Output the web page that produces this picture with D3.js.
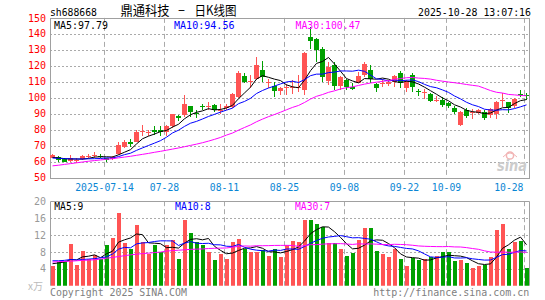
<!DOCTYPE html>
<html><head><meta charset="utf-8">
<script src="https://cdn.jsdelivr.net/npm/d3@7"></script>
<style>body{margin:0;background:#fff}svg{display:block}</style>
</head><body><svg id="c" width="545" height="300"></svg>
<script>
// ---------- data ----------
const dates = [
"2025-07-01","2025-07-02","2025-07-03","2025-07-04","2025-07-07","2025-07-08","2025-07-09","2025-07-10","2025-07-11",
"2025-07-14","2025-07-15","2025-07-16","2025-07-17","2025-07-18","2025-07-21","2025-07-22","2025-07-23","2025-07-24","2025-07-25",
"2025-07-28","2025-07-29","2025-07-30","2025-07-31","2025-08-01","2025-08-04","2025-08-05","2025-08-06","2025-08-07","2025-08-08",
"2025-08-11","2025-08-12","2025-08-13","2025-08-14","2025-08-15","2025-08-18","2025-08-19","2025-08-20","2025-08-21","2025-08-22",
"2025-08-25","2025-08-26","2025-08-27","2025-08-28","2025-08-29","2025-09-01","2025-09-02","2025-09-03","2025-09-04","2025-09-05",
"2025-09-08","2025-09-09","2025-09-10","2025-09-11","2025-09-12","2025-09-15","2025-09-16","2025-09-17","2025-09-18","2025-09-19",
"2025-09-22","2025-09-23","2025-09-24","2025-09-25","2025-09-26","2025-09-29","2025-09-30",
"2025-10-09","2025-10-10","2025-10-13","2025-10-14","2025-10-15","2025-10-16","2025-10-17","2025-10-20","2025-10-21","2025-10-22",
"2025-10-23","2025-10-24","2025-10-27","2025-10-28"];
const open = [62.5,63,61.5,60.5,60.5,61.6,63,63.5,63.5,62,61.5,64.5,69.4,72,72.5,78.8,78.5,79.5,80,78.3,
82,88.5,89,94.5,90.5,94.5,94,95.5,92,93.5,94.4,100.6,113.5,110,112,117.5,109.5,107.5,104,106.5,
106.5,106.5,105,138,136.5,130.5,110.5,120.5,107.5,111,106.5,109.5,114,117.5,108.5,108.5,108.5,110,115.5,106,
114,104,103,102.5,98.5,98.5,96.5,93.8,83,92.3,91,90.5,91.3,89.2,90,98.5,97,94.5,102.5,101.5];
const high = [64.5,63.5,62,64,62.5,64,65,66,64.5,62.5,63.5,72.5,73.5,74,79.5,83,80,82,82.5,82.8,
90,89,101.5,95,92.5,96,97,96,96,96,103,117,115.5,114,125.5,123,111.5,110,107,108.5,
111,114,128.5,144,137.5,131.5,122.5,122.5,113.5,111.5,109,116,122.5,120.5,109.5,112,111,114,116.5,111,
115.5,105.2,105.2,103,101,100.5,97,95,91.5,93.8,92.7,93,92,93.4,97.7,102.7,97.5,99.6,104.8,102.7];
const low = [62,60,59.5,60,59,61,62,62.5,62,59.5,61,64,68.5,69,72,76,76,76.5,76,76,
81,85.5,88,88,87,92,92,91,90,92,93.5,100,109,106,111,110,106,100.5,102,101.5,
102.5,103.7,102,130.8,122.5,110,108,104.8,104.8,104.8,104.8,109,113,109,103.7,107,107.5,107,105.8,103.7,
103.5,101,99,97.5,97.5,94.4,93.8,89.6,82.3,87,86.5,90,86,87.5,86.5,94.4,90.6,93.5,100.6,98.5];
const close = [64,61,60,62,61,63.5,63.5,64,63,61,62.7,70.4,72.1,71,78.8,79,78.6,78.8,78.5,82.5,
89.5,87.5,96,91,90.2,94,94.5,92,92.5,94.8,102.3,115.2,110,110.5,120.4,113,110,104.2,106,107,
107,107,128,135.5,130,113,119.5,107.5,113,107,105.5,113.5,121,112,106,109,110,113.5,109,110,
107,103.5,103.5,98,98.8,95.5,94.5,91,91,88.5,91.3,92.3,87,93,97.5,98.7,93.5,99,102,101];
// volume (万手)
const volume = [4.6,5.6,5.6,9.8,4.9,8.2,6.4,7.2,6.4,9.6,11.2,17.1,10.0,8.6,14.3,10.4,7.4,9.6,8.0,9.6,
10.9,6.4,15.5,12.4,10.4,9.6,8.0,6.2,7.6,6.4,10.4,11.1,8.8,8.0,8.0,8.4,7.0,8.6,6.8,9.7,
10.5,10.3,15.5,15.5,14.5,13.9,10.0,10.0,8.8,7.0,7.8,10.7,13.7,13.7,8.3,7.4,6.8,8.8,6.4,4.6,
6.6,6.2,6.4,6.7,7.0,8.0,8.0,5.8,6.2,5.3,4.1,4.6,4.9,6.9,13.3,14.5,8.8,10.4,10.5,4.3];
// moving-average values at the start of the window (need history before the chart)
const ma5Head = [62.6,62.3,61.8,61.6];
const ma10Head = [62.2,62.0,61.8,61.7,61.6,61.6,61.7,61.8,61.9];
const ma30Head = [57.3,57.7,58.2,58.7,59.2,59.7,60.2,60.6,61.0,61.4,61.8,62.3,62.8,63.3,63.9,64.5,65.1,65.8,66.4,67.1,
67.8,68.5,69.3,70.1,70.9,71.8,72.8,73.9,75.1];
const volMa5Head = [5.2,5.4,5.6,6.2];
const volMa10Head = [5.9,5.9,6.0,6.2,6.1,6.2,6.3,6.4,6.6];
const volMa30Head = [5.6,5.7,5.75,5.8,5.9,6.0,6.05,6.15,6.3,6.5,6.7,6.9,7.1,7.3,7.45,7.6,7.7,7.85,7.95,8.2,
8.3,8.4,8.5,8.6,8.65,8.7,8.8,8.85,8.9];
const priceTicks = [50,60,70,80,90,100,110,120,130,140,150];
const volTicks = [4,8,12,16,20];
const dateTicks = ["2025-07-14","2025-07-28","2025-08-11","2025-08-25","2025-09-08","2025-09-22","2025-10-09","2025-10-28"];
const dateTickLabels = ["2025-07-14","07-28","08-11","08-25","09-08","09-22","10-09","10-28"];
const symbol = "sh688668";
const titleParts = ["鼎通科技", "－", "日K线图"];
const stamp = "2025-10-28 13:07:16";
const priceLegend = ["MA5:97.79","MA10:94.56","MA30:100.47"];
const volLegend = ["MA5:9","MA10:8","MA30:7"];

// ---------- drawing ----------
const RED = "#ff5454", GREEN = "#00a000", GRID = "#aaaaaa", FRAME = "#a0a0a0";
const MA_COLORS = ["#000000","#0000ff","#ff00ff"];
const MONO = "DejaVu Sans Mono, monospace";
const CJK = "Noto Sans CJK SC, sans-serif";
const svg = d3.select("#c");
const L = 50, R = 530;
const x = d3.scaleBand().domain(dates).range([L, R]).paddingInner(1/6).paddingOuter(1/12);
const bx = d => Math.floor(x(d));
const cx = i => bx(dates[i]) + 2.5;
const y = d3.scaleLinear().domain([50,150]).range([177.5,17.9]);
const yv = d3.scaleLinear().domain([0,20]).range([285.7,201.2]);

function ma(vals, n, head){
  return vals.map((v,i)=> i < head.length ? head[i] : d3.mean(vals.slice(i-n+1,i+1)));
}
function txt(s, px, py, opt){
  const t = svg.append("text").attr("x",px).attr("y",py).text(s)
    .attr("font-family", opt.family || MONO).attr("font-size", opt.size || 10)
    .attr("fill", opt.fill || "#000");
  if (opt.anchor) t.attr("text-anchor", opt.anchor);
  if (opt.len) t.attr("textLength", opt.len).attr("lengthAdjust","spacingAndGlyphs");
  return t;
}

svg.append("defs").append("clipPath").attr("id","pc").append("rect")
  .attr("x",L).attr("y",y(150)).attr("width",R-L).attr("height",y(50)-y(150));
svg.select("defs").append("clipPath").attr("id","vc").append("rect")
  .attr("x",L).attr("y",yv(20)).attr("width",R-L).attr("height",yv(0)-yv(20));

// header
txt(symbol, 50, 15.5, {size:11, len:47});
txt(titleParts[0], 120.6, 14.8, {family:CJK, size:13, len:49});
txt(titleParts[1], 177.5, 14.8, {family:CJK, size:13, len:8});
txt(titleParts[2], 194.5, 14.8, {family:CJK, size:13, len:42});
txt(stamp, 418, 15.5, {size:11, len:113});

// grids main
const g = svg.append("g");
g.selectAll("line.hg").data(priceTicks.filter(v=>v>50 && v<150)).join("line")
  .attr("x1",L).attr("x2",R).attr("y1",d=>Math.round(y(d))+0.5).attr("y2",d=>Math.round(y(d))+0.5)
  .attr("stroke",GRID).attr("stroke-dasharray","2,2");
g.selectAll("line.vg").data(dateTicks).join("line")
  .attr("x1",d=>bx(d)+0.5).attr("x2",d=>bx(d)+0.5).attr("y1",y(150)).attr("y2",y(50))
  .attr("stroke",GRID).attr("stroke-dasharray","5,3");
// grids volume
g.append("g").selectAll("line").data(volTicks.filter(v=>v<20)).join("line")
  .attr("x1",L).attr("x2",R).attr("y1",d=>Math.round(yv(d))+0.5).attr("y2",d=>Math.round(yv(d))+0.5)
  .attr("stroke",GRID).attr("stroke-dasharray","2,2");
g.append("g").selectAll("line").data(dateTicks).join("line")
  .attr("x1",d=>bx(d)+0.5).attr("x2",d=>bx(d)+0.5).attr("y1",yv(20)).attr("y2",yv(0))
  .attr("stroke",GRID).attr("stroke-dasharray","5,3");

// frames
svg.append("rect").attr("x",L+0.5).attr("y",Math.round(y(150))+0.5).attr("width",R-L-1)
  .attr("height",Math.round(y(50))-Math.round(y(150))).attr("fill","none").attr("stroke",FRAME);
svg.append("path").attr("d",`M${L+0.5},${yv(0)}V${Math.round(yv(20))+0.5}H${R-0.5}V${yv(0)}`)
  .attr("fill","none").attr("stroke",FRAME);

// price axis labels
priceTicks.forEach(v=>txt(String(v), 46, y(v)+3.6, {size:10, fill:"#ff0000", anchor:"end"}));
// volume axis labels
volTicks.forEach(v=>txt(String(v), 46, yv(v)+3.6, {size:10, fill:"#999999", anchor:"end"}));
// date labels
dateTicks.forEach((d,k)=>{
  const s = dateTickLabels[k], w = s.length*5.87, c = bx(d)+0.5;
  const x0 = Math.min(c - w/2, R - 6.5 - w);
  txt(s, x0, 190.6, {size:11, fill:"#0a86d4", len:w});
});

// candles
const cg = svg.append("g").attr("clip-path","url(#pc)");
const idx = d3.range(dates.length);
const col = i => close[i] >= open[i] ? RED : GREEN;
cg.selectAll("line.w").data(idx).join("line")
  .attr("x1",cx).attr("x2",cx).attr("y1",i=>Math.round(y(high[i]))).attr("y2",i=>Math.round(y(low[i])))
  .attr("stroke",col).attr("shape-rendering","crispEdges");
cg.selectAll("rect.b").data(idx).join("rect")
  .attr("x",i=>bx(dates[i])).attr("width",x.bandwidth())
  .attr("y",i=>Math.round(y(Math.max(open[i],close[i]))))
  .attr("height",i=>Math.max(1, Math.round(y(Math.min(open[i],close[i])))-Math.round(y(Math.max(open[i],close[i])))))
  .attr("fill",col).attr("shape-rendering","crispEdges");

// price MAs
const pm = [ma(close,5,ma5Head), ma(close,10,ma10Head), ma(close,30,ma30Head)];
const line = d3.line().x((d,i)=>cx(i)).y(d=>y(d));
pm.forEach((arr,k)=>cg.append("path").attr("d",line(arr)).attr("fill","none")
  .attr("stroke",MA_COLORS[k]).attr("stroke-width",1));

// volume bars
const vg = svg.append("g").attr("clip-path","url(#vc)");
vg.selectAll("rect").data(idx).join("rect")
  .attr("x",i=>bx(dates[i])+1).attr("width",x.bandwidth()-1)
  .attr("y",i=>Math.round(yv(volume[i]))).attr("height",i=>Math.round(yv(0))-Math.round(yv(volume[i])))
  .attr("fill",col).attr("shape-rendering","crispEdges");
const vm = [ma(volume,5,volMa5Head), ma(volume,10,volMa10Head), ma(volume,30,volMa30Head)];
const vline = d3.line().x((d,i)=>cx(i)).y(d=>yv(d));
vm.forEach((arr,k)=>vg.append("path").attr("d",vline(arr)).attr("fill","none")
  .attr("stroke",MA_COLORS[k]).attr("stroke-width",1));

// legends
const lp = [[54,54],[174,60.5],[295.5,65]];
priceLegend.forEach((s,k)=>txt(s, lp[k][0], 28.8, {size:11, fill:MA_COLORS[k], len:lp[k][1]}));
const lv = [[54.3,29],[175,35.7],[295,35]];
volLegend.forEach((s,k)=>txt(s, lv[k][0], 209.5, {size:11, fill:MA_COLORS[k], len:lv[k][1]}));

// watermark
svg.append("circle").attr("cx",510).attr("cy",155.5).attr("r",3.6).attr("fill","none")
  .attr("stroke","#f2b4b4").attr("stroke-width",1.5);
svg.append("path").attr("d","M503,157 Q510,149 517,157").attr("fill","none").attr("stroke","#f2b4b4").attr("stroke-width",1);
txt("sina", 497, 171, {family:"DejaVu Sans, sans-serif", size:15, fill:"#cccccc", len:30})
  .attr("font-style","italic").attr("font-weight","bold");

// footer
txt("x万", 28, 289.5, {family:CJK, size:10, fill:"#bbbbbb", len:15});
txt("Copyright 2025 SINA.COM", 50, 296, {size:10, fill:"#808080", len:137});
txt("http://finance.sina.com.cn", 373.3, 296, {size:10, fill:"#808080", len:156});
</script></body></html>
